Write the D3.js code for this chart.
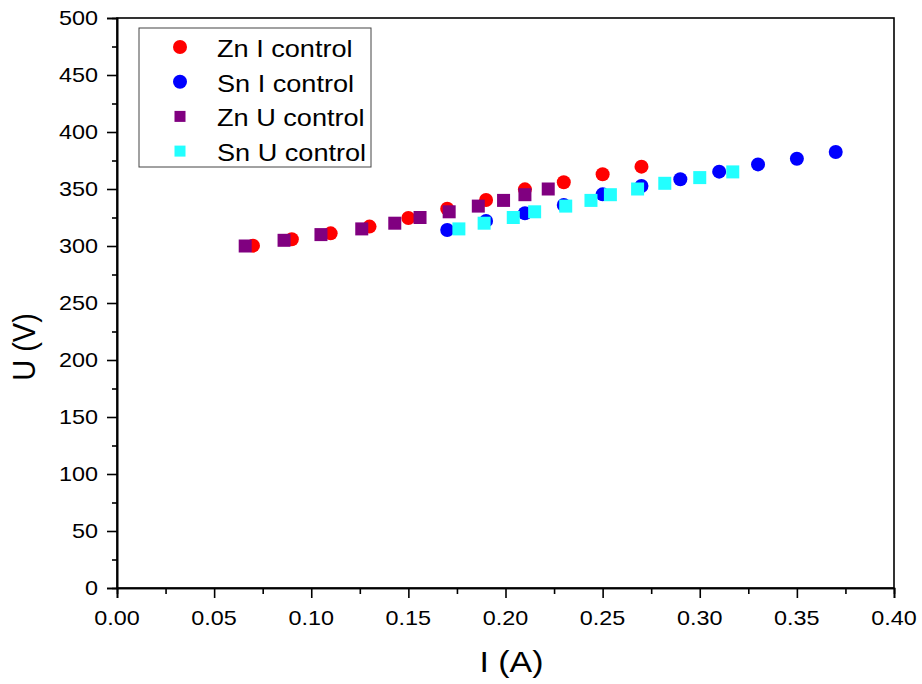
<!DOCTYPE html>
<html>
<head>
<meta charset="utf-8">
<script src="https://cdn.jsdelivr.net/npm/d3@7"></script>
<style>
  html, body { margin: 0; padding: 0; background: #fff; }
  svg { display: block; }
  text { font-family: "Liberation Sans", Arial, sans-serif; fill: #000; }
</style>
</head>
<body>
<svg id="chart" width="922" height="684"></svg>
<script>
// ---------------- data ----------------
const znIx = [0.07, 0.09, 0.11, 0.13, 0.15, 0.17, 0.19, 0.21, 0.23, 0.25, 0.27];
const znIy = [300.3, 305.9, 311.1, 317, 324.6, 332.7, 340.4, 349.7, 355.9, 362.9, 369.6];
const snIx = [0.17, 0.19, 0.21, 0.23, 0.25, 0.27, 0.29, 0.31, 0.33, 0.35, 0.37];
const snIy = [314, 322, 328.7, 336, 345.3, 352.6, 358.5, 365.2, 371.6, 376.6, 382.5];
const znUx = [0.066, 0.086, 0.105, 0.126, 0.143, 0.156, 0.171, 0.186, 0.199, 0.210, 0.222];
const znUy = [300, 305, 310, 315, 320, 325, 330, 335, 340, 345, 350];
const snUx = [0.176, 0.189, 0.204, 0.215, 0.231, 0.244, 0.254, 0.268, 0.282, 0.300, 0.317];
const snUy = [315, 320, 325, 330, 335, 340, 345, 350, 355, 360, 365];

const seriesNames = ["Zn I control", "Sn I control", "Zn U control", "Sn U control"];
const xTicks = [0.00, 0.05, 0.10, 0.15, 0.20, 0.25, 0.30, 0.35, 0.40];
const xMinor = [0.025, 0.075, 0.125, 0.175, 0.225, 0.275, 0.325, 0.375];
const yTicks = [0, 50, 100, 150, 200, 250, 300, 350, 400, 450, 500];
const yMinor = [25, 75, 125, 175, 225, 275, 325, 375, 425, 475];
const xTitle = "I (A)";
const yTitle = "U (V)";

// ---------------- layout ----------------
const svg = d3.select("#chart");
const L = 117, R = 894, T = 18, B = 588;
const x = d3.scaleLinear().domain([0, 0.4]).range([L, R]);
const y = d3.scaleLinear().domain([0, 500]).range([B, T]);
const SX = 1.17; // horizontal stretch of the reference text

const series = [
  { name: seriesNames[0], xs: znIx, ys: znIy, shape: "circle", color: "#ff0000" },
  { name: seriesNames[1], xs: snIx, ys: snIy, shape: "circle", color: "#0000ff" },
  { name: seriesNames[2], xs: znUx, ys: znUy, shape: "square", color: "#800080" },
  { name: seriesNames[3], xs: snUx, ys: snUy, shape: "square", color: "#22ffff" }
];

// frame
svg.append("rect").attr("x", L).attr("y", T).attr("width", R - L).attr("height", B - T)
  .attr("fill", "none").attr("stroke", "#000").attr("stroke-width", 1.6);

// axes (ticks)
const gx = svg.append("g").attr("transform", `translate(0,${B})`)
  .call(d3.axisBottom(x).tickValues(xTicks).tickSize(10).tickFormat(""));
const gxm = svg.append("g").attr("transform", `translate(0,${B})`)
  .call(d3.axisBottom(x).tickValues(xMinor).tickSize(6).tickFormat(""));
const gy = svg.append("g").attr("transform", `translate(${L},0)`)
  .call(d3.axisLeft(y).tickValues(yTicks).tickSize(10).tickFormat(""));
const gym = svg.append("g").attr("transform", `translate(${L},0)`)
  .call(d3.axisLeft(y).tickValues(yMinor).tickSize(5).tickFormat(""));
[gx, gxm, gy, gym].forEach(g => {
  g.select(".domain").attr("stroke", "#000").attr("stroke-width", 1.6);
  g.selectAll(".tick line").attr("stroke", "#000").attr("stroke-width", 1.6);
});

// tick labels
svg.append("g").selectAll("text").data(xTicks).join("text")
  .attr("transform", d => `translate(${x(d)},${B + 37}) scale(${SX},1)`)
  .attr("text-anchor", "middle").style("font-size", "20px")
  .text(d => d.toFixed(2));
svg.append("g").selectAll("text").data(yTicks).join("text")
  .attr("transform", d => `translate(${L - 19},${y(d) + 7}) scale(${SX},1)`)
  .attr("text-anchor", "end").style("font-size", "20px")
  .text(d => d);

// axis titles
svg.append("text")
  .attr("transform", `translate(${(L + R) / 2 + 6},${672}) scale(1.13,1)`)
  .attr("text-anchor", "middle").style("font-size", "30px").text(xTitle);
svg.append("text")
  .attr("transform", `translate(${35},${347}) scale(1.1,1) rotate(-90)`)
  .attr("text-anchor", "middle").style("font-size", "29px").text(yTitle);

// markers
function drawMarker(sel, shape, color, r, s) {
  if (shape === "circle") {
    sel.append("circle").attr("r", r).attr("fill", color);
  } else {
    sel.append("rect").attr("x", -s / 2).attr("y", -s / 2).attr("width", s).attr("height", s).attr("fill", color);
  }
}
series.forEach(s => {
  const pts = s.xs.map((v, i) => [v, s.ys[i]]);
  const g = svg.append("g");
  pts.forEach(p => {
    const m = g.append("g").attr("transform", `translate(${x(p[0])},${y(p[1])})`);
    drawMarker(m, s.shape, s.color, 7, 13);
  });
});

// legend
const lg = svg.append("g");
lg.append("rect").attr("x", 139).attr("y", 28).attr("width", 232).attr("height", 139)
  .attr("fill", "#fff").attr("stroke", "#444").attr("stroke-width", 1);
series.forEach((s, i) => {
  const cy = 47 + i * 34.7;
  const m = lg.append("g").attr("transform", `translate(180,${cy})`);
  drawMarker(m, s.shape, s.color, 7, 11);
  lg.append("text")
    .attr("transform", `translate(217,${cy + 10}) scale(1.13,1)`)
    .style("font-size", "24px").text(s.name);
});
</script>
</body>
</html>
